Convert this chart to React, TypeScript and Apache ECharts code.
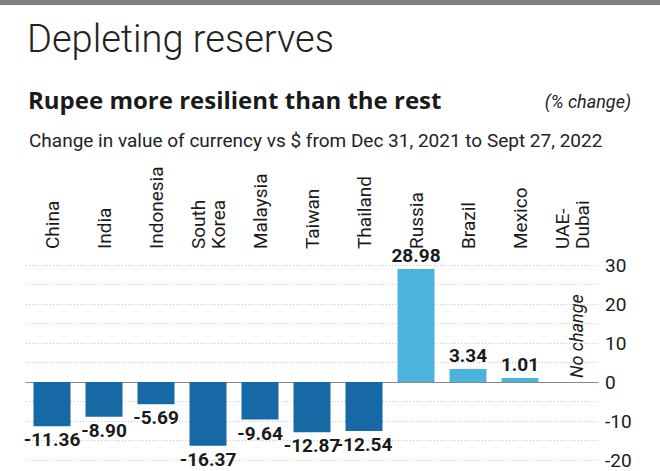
import React, { useEffect, useRef } from "react";
import * as echarts from "echarts";

const categories = ["China", "India", "Indonesia", "South\nKorea", "Malaysia", "Taiwan", "Thailand", "Russia", "Brazil", "Mexico", "UAE-\nDubai"];
const changes = [-11.36, -8.9, -5.69, -16.37, -9.64, -12.87, -12.54, 28.98, 3.34, 1.01, 0];
const yTicks = { min: -20, max: 30, step: 5, labelStep: 10 };

const FONT = "Roboto, 'Noto Sans', sans-serif";
const DARK = "#1769a6";
const LIGHT = "#4ab4dd";

export default function App() {
  const ref = useRef<HTMLDivElement>(null);
  useEffect(() => {
    if (!ref.current) return;
    const chart = echarts.init(ref.current, undefined, { renderer: "svg" });
    const data = changes.map((v) => {
      if (v === 0) {
        return {
          value: v,
          itemStyle: { color: LIGHT },
          label: {
            show: true,
            formatter: "No change",
            rotate: 90,
            position: "top",
            align: "left",
            verticalAlign: "middle",
            distance: 4,
            offset: [0, 4],
            fontStyle: "italic",
            fontWeight: "normal",
            fontSize: 18,
          },
        };
      }
      return {
        value: v,
        itemStyle: { color: v < 0 ? DARK : LIGHT },
        label: { position: v < 0 ? "bottom" : "top" },
      };
    });
    chart.setOption({
      animation: false,
      backgroundColor: "#fff",
      textStyle: { fontFamily: FONT },
      title: [
        { text: "Depleting reserves", left: 22, top: 15, textStyle: { fontSize: 38, fontWeight: 300, color: "#222", fontFamily: FONT } },
        { text: "Rupee more resilient than the rest", left: 23, top: 82, textStyle: { fontSize: 24, fontWeight: "bold", color: "#1a1a1a", fontFamily: "'Open Sans', Roboto, sans-serif" } },
        { text: "(% change)", right: 24, top: 87, textStyle: { fontSize: 18, fontStyle: "italic", fontWeight: "normal", color: "#222", fontFamily: FONT } },
        { text: "Change in value of currency vs $ from Dec 31, 2021 to Sept 27, 2022", left: 24, top: 126, textStyle: { fontSize: 19, fontWeight: "normal", color: "#222", fontFamily: FONT } },
      ],
      graphic: [
        { type: "rect", left: 0, top: 0, shape: { width: 660, height: 5 }, style: { fill: "#808080" } },
      ],
      grid: { left: 26, right: 62, top: 265, bottom: 11, containLabel: false },
      xAxis: [
        {
          type: "category",
          data: categories,
          position: "bottom",
          axisLine: { show: true, onZero: true, lineStyle: { color: "#8a8a8a", width: 1 } },
          axisTick: { show: false },
          axisLabel: { show: false },
        },
        {
          type: "category",
          data: categories,
          position: "top",
          axisLine: { show: false, onZero: false },
          axisTick: { show: false },
          axisLabel: {
            show: true,
            rotate: -90,
            interval: 0,
            margin: 16,
            fontSize: 19,
            color: "#1a1a1a",
            lineHeight: 20,
            fontFamily: FONT,
          },
        },
      ],
      yAxis: {
        type: "value",
        position: "right",
        min: yTicks.min,
        max: yTicks.max,
        interval: yTicks.step,
        axisLine: { show: false },
        axisTick: { show: false },
        splitLine: { show: true, lineStyle: { color: "#c8c8c8", type: [1, 2], width: 1 } },
        axisLabel: {
          margin: 7,
          fontSize: 19,
          color: "#1a1a1a",
          fontFamily: FONT,
          formatter: (v: number) => (v % yTicks.labelStep === 0 ? String(v) : ""),
        },
      },
      series: [
        {
          type: "bar",
          xAxisIndex: 0,
          data,
          barWidth: 37,
          label: {
            show: true,
            fontSize: 19,
            fontWeight: "bold",
            color: "#1a1a1a",
            distance: 4,
            fontFamily: FONT,
            formatter: (p: any) => Number(p.value).toFixed(2),
          },
        },
      ],
    });
    return () => chart.dispose();
  }, []);
  return <div ref={ref} style={{ width: 660, height: 471, position: "absolute", left: 0, top: 0 }} />;
}
